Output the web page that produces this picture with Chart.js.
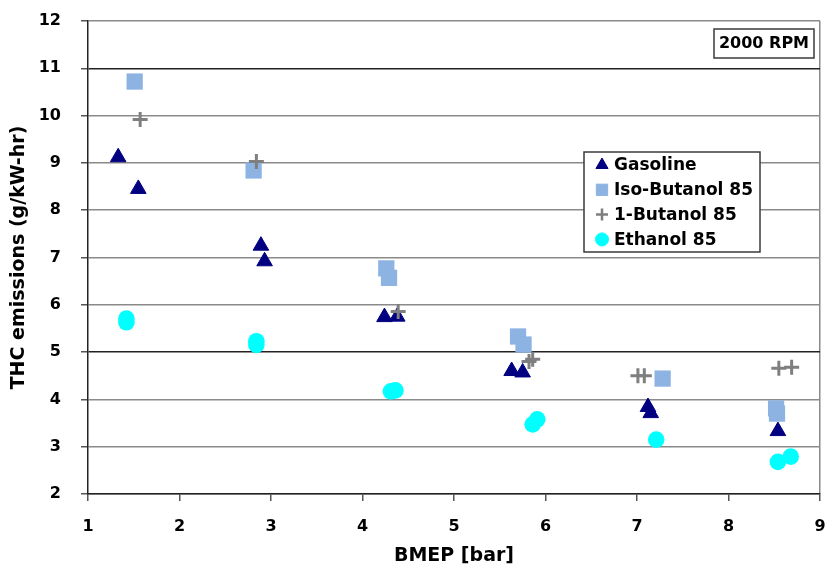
<!DOCTYPE html>
<html>
<head>
<meta charset="utf-8">
<script src="https://cdn.jsdelivr.net/npm/chart.js@4.4.1/dist/chart.umd.min.js"></script>
<style>
  html, body { margin: 0; padding: 0; background: #fff; }
  canvas { display: block; }
</style>
</head>
<body>
<canvas id="thc" width="826" height="568" style="width:826px;height:568px"></canvas>
<script>
// THC emissions vs. BMEP at 2000 RPM for four fuels
const seriesNames = ['Gasoline', 'Iso-Butanol 85', '1-Butanol 85', 'Ethanol 85'];

const gasolineBmep = [1.33, 1.55, 2.89, 2.93, 4.24, 4.38, 5.63, 5.75, 7.12, 7.15, 8.54];
const gasolineThc  = [9.12, 8.45, 7.25, 6.92, 5.74, 5.75, 4.60, 4.57, 3.84, 3.71, 3.33];

const isoButanolBmep = [1.51, 2.81, 4.26, 4.29, 5.70, 5.76, 7.28, 8.52, 8.53];
const isoButanolThc  = [10.72, 8.84, 6.77, 6.57, 5.33, 5.16, 4.44, 3.81, 3.70];

const nButanolBmep = [1.57, 2.84, 4.39, 5.82, 5.86, 7.01, 7.08, 8.55, 8.69];
const nButanolThc  = [9.92, 9.03, 5.86, 4.80, 4.85, 4.50, 4.50, 4.66, 4.68];

const ethanolBmep = [1.42, 1.42, 2.84, 2.84, 4.31, 4.36, 5.86, 5.91, 7.21, 8.54, 8.68];
const ethanolThc  = [5.63, 5.71, 5.15, 5.23, 4.17, 4.19, 3.47, 3.58, 3.15, 2.68, 2.79];

const bmepRange = [1, 9];
const thcRange = [2, 12];
const speedLabel = '2000 RPM';
const xTitle = 'BMEP [bar]';
const yTitle = 'THC emissions (g/kW-hr)';

const FONT = "'DejaVu Sans', 'Liberation Sans', Arial, sans-serif";

function pairs(xs, ys) {
  return xs.map((x, i) => ({ x: x, y: ys[i] }));
}

// Keep the plot frame fixed: no extra room reserved for end tick labels
function fixScaleSize(prop, size) {
  return (s) => {
    s[prop] = size;
    s.paddingLeft = 0;
    s.paddingRight = 0;
    s.paddingTop = 0;
    s.paddingBottom = 0;
  };
}

// Legend box and speed label drawn over the plot area
const overlayPlugin = {
  id: 'overlay',
  afterDraw(chart) {
    const ctx = chart.ctx;
    ctx.save();

    // speed label box
    ctx.fillStyle = '#fff';
    ctx.fillRect(714, 29, 100, 29);
    ctx.strokeStyle = '#3a3a3a';
    ctx.lineWidth = 1.5;
    ctx.strokeRect(714, 29, 100, 29);
    ctx.fillStyle = '#000';
    ctx.font = 'bold 16px ' + FONT;
    ctx.textAlign = 'center';
    ctx.textBaseline = 'middle';
    ctx.fillText(speedLabel, 764, 44);

    // legend box
    ctx.fillStyle = '#fff';
    ctx.fillRect(584, 152, 176, 100);
    ctx.strokeStyle = '#3a3a3a';
    ctx.lineWidth = 1.5;
    ctx.strokeRect(584, 152, 176, 100);

    const legendRadius = [7, 8, 6, 6.5];
    ctx.font = 'bold 17px ' + FONT;
    ctx.textAlign = 'left';
    chart.data.datasets.forEach((ds, i) => {
      const y = 165 + i * 24.8;
      ctx.fillStyle = ds.backgroundColor;
      ctx.strokeStyle = ds.borderColor;
      ctx.lineWidth = ds.pointStyle === 'cross' ? 2.5 : 1;
      Chart.helpers.drawPoint(ctx, {
        pointStyle: ds.pointStyle,
        radius: legendRadius[i],
        rotation: 0,
        borderWidth: ctx.lineWidth
      }, 602, y);
      ctx.fillStyle = '#000';
      ctx.fillText(ds.label, 614, y + 1);
    });
    ctx.restore();
  }
};

new Chart(document.getElementById('thc'), {
  type: 'scatter',
  data: {
    datasets: [
      {
        label: seriesNames[0],
        data: pairs(gasolineBmep, gasolineThc),
        pointStyle: 'triangle',
        pointRadius: 9,
        backgroundColor: '#000080',
        borderColor: '#000080',
        borderWidth: 1,
        order: 4
      },
      {
        label: seriesNames[1],
        data: pairs(isoButanolBmep, isoButanolThc),
        pointStyle: 'rect',
        pointRadius: 11.5,
        backgroundColor: '#8DB3E2',
        borderColor: '#8DB3E2',
        borderWidth: 0,
        order: 3
      },
      {
        label: seriesNames[2],
        data: pairs(nButanolBmep, nButanolThc),
        pointStyle: 'cross',
        pointRadius: 7.5,
        backgroundColor: '#7F7F7F',
        borderColor: '#7F7F7F',
        borderWidth: 3,
        order: 2
      },
      {
        label: seriesNames[3],
        data: pairs(ethanolBmep, ethanolThc),
        pointStyle: 'circle',
        pointRadius: 8.3,
        backgroundColor: '#00FFFF',
        borderColor: '#00FFFF',
        borderWidth: 0,
        order: 1
      }
    ]
  },
  options: {
    responsive: false,
    animation: false,
    events: [],
    devicePixelRatio: 1,
    layout: { autoPadding: false, padding: { top: 21, right: 6, left: 0, bottom: 0 } },
    plugins: {
      legend: { display: false },
      tooltip: { enabled: false }
    },
    scales: {
      x: {
        type: 'linear',
        min: bmepRange[0],
        max: bmepRange[1],
        ticks: {
          stepSize: 1,
          color: '#000',
          padding: 16,
          font: { family: FONT, size: 16, weight: 'bold' }
        },
        grid: {
          drawOnChartArea: true,
          color: (c) => (c.tick && c.tick.value === bmepRange[1]) ? '#8a8a8a' : 'rgba(0,0,0,0)',
          tickColor: '#555',
          tickLength: 7,
          lineWidth: 1.5
        },
        border: { display: true, color: '#222', width: 1.5 },
        title: {
          display: true,
          text: xTitle,
          color: '#000',
          font: { family: FONT, size: 19, weight: 'bold' },
          padding: { top: 0, bottom: 1 }
        },
        afterFit: fixScaleSize('height', 74)
      },
      y: {
        min: thcRange[0],
        max: thcRange[1],
        ticks: {
          stepSize: 1,
          color: '#000',
          padding: 20,
          font: { family: FONT, size: 16, weight: 'bold' }
        },
        grid: {
          color: (c) => (c.tick && (c.tick.value === 11 || c.tick.value === 5)) ? '#222' : '#8a8a8a',
          tickColor: '#555',
          tickLength: 7,
          lineWidth: 1.5
        },
        border: { display: true, color: '#222', width: 1.5 },
        title: {
          display: true,
          text: yTitle,
          color: '#000',
          font: { family: FONT, size: 19, weight: 'bold' },
          padding: { top: 8, bottom: 0 }
        },
        afterFit: fixScaleSize('width', 88)
      }
    }
  },
  plugins: [overlayPlugin]
});
</script>
</body>
</html>
